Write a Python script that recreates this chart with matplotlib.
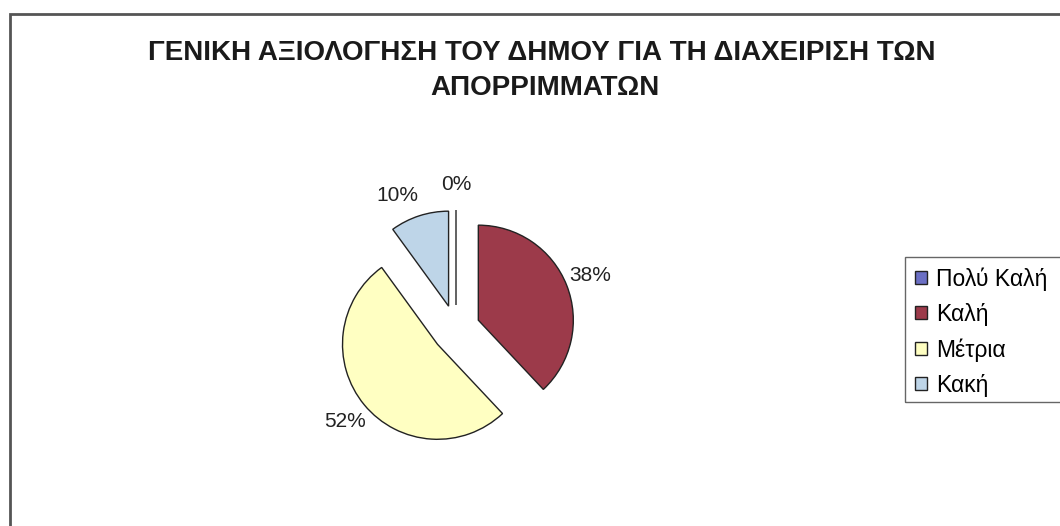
import matplotlib
matplotlib.use("Agg")
import matplotlib.pyplot as plt
from matplotlib.patches import Rectangle

plt.rcParams['font.family'] = ['Liberation Sans', 'DejaVu Sans']

# survey answers and their shares
categories = ['Πολύ Καλή', 'Καλή', 'Μέτρια', 'Κακή']
shares = [0, 38, 52, 10]
colors = ['#6b6fc4', '#9c3a4a', '#ffffc2', '#bed5e8']
title_lines = ['ΓΕΝΙΚΗ ΑΞΙΟΛΟΓΗΣΗ ΤΟΥ ΔΗΜΟΥ ΓΙΑ ΤΗ ΔΙΑΧΕΙΡΙΣΗ ΤΩΝ', 'ΑΠΟΡΡΙΜΜΑΤΩΝ']

W, H = 1060, 526
fig = plt.figure(figsize=(W / 100, H / 100), dpi=100)
fig.patch.set_facecolor('white')

# axes in pixel units so the pie sits where we want it
ax = fig.add_axes([0, 0, 1, 1])
wedges, texts, autotexts = ax.pie(
    shares,
    colors=colors,
    startangle=90,
    counterclock=False,
    explode=[24] * len(shares),
    radius=95,
    center=(456, H - 329),
    autopct='%1.0f%%',
    pctdistance=1.27,
    wedgeprops=dict(edgecolor='#222222', linewidth=1.0),
    textprops=dict(fontsize=15, color='#222222'),
)
# nudge the small-slice label left, away from the 0% one
x, y = autotexts[3].get_position()
autotexts[3].set_position((x - 14, y - 4))

ax.set_xlim(0, W)
ax.set_ylim(0, H)
ax.set_aspect('equal')
ax.axis('off')

# chart frame
fig.patches.append(Rectangle((10 / W, -0.1), 1.2, (H - 14) / H + 0.1,
                             transform=fig.transFigure, fill=False,
                             edgecolor='#555555', linewidth=2))

fig.text(542 / W, 1 - 53 / H, title_lines[0], ha='center', va='center',
         fontsize=20, fontweight='bold', color='#1a1a1a')
fig.text(545 / W, 1 - 88 / H, title_lines[1], ha='center', va='center',
         fontsize=20, fontweight='bold', color='#1a1a1a')

leg = ax.legend(wedges, categories, loc='upper left',
                bbox_to_anchor=(905 / W, 1 - 257 / H), bbox_transform=fig.transFigure,
                fontsize=16.5, frameon=False, borderaxespad=0,
                handlelength=0.5, handleheight=0.5, handletextpad=0.4,
                labelspacing=0.53, borderpad=0.45)
# legend box runs past the right edge
fig.patches.append(Rectangle((905 / W, 1 - 402 / H), 0.2, 145 / H,
                             transform=fig.transFigure, fill=False,
                             edgecolor='#666666', linewidth=1.0))

fig.savefig('out.png', dpi=100)
